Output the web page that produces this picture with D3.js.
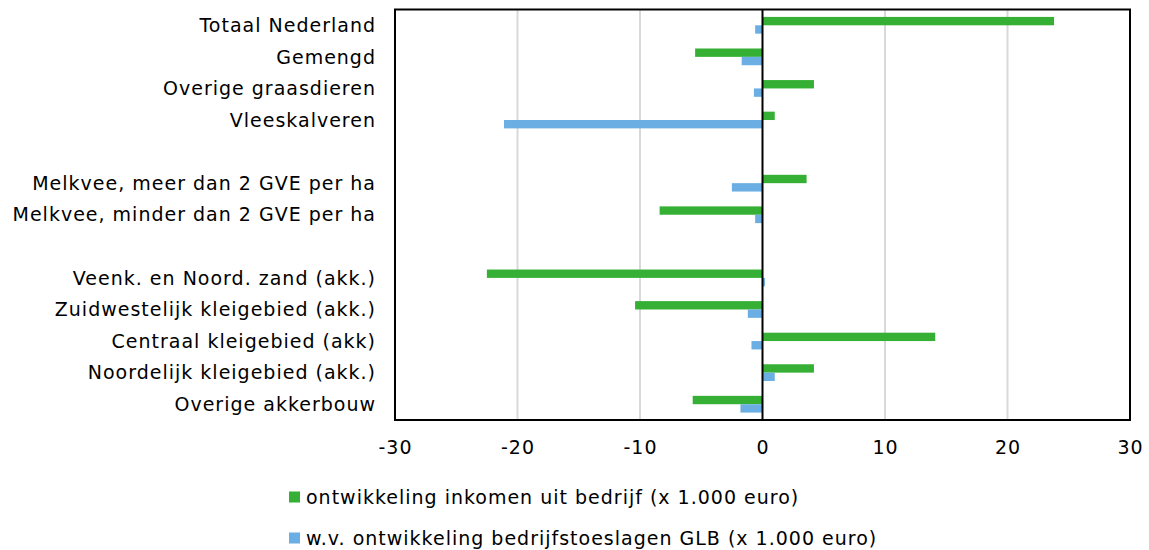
<!DOCTYPE html>
<html>
<head>
<meta charset="utf-8">
<script src="https://cdn.jsdelivr.net/npm/d3@7"></script>
<style>
  html, body { margin: 0; padding: 0; background: #fff; }
  svg { display: block; font-family: "DejaVu Sans", Verdana, sans-serif; }
</style>
</head>
<body>
<svg id="chart" width="1149" height="550"></svg>
<script>
// Categories top to bottom; null marks an empty spacer row between groups
const categories = [
  "Totaal Nederland",
  "Gemengd",
  "Overige graasdieren",
  "Vleeskalveren",
  null,
  "Melkvee, meer dan 2 GVE per ha",
  "Melkvee, minder dan 2 GVE per ha",
  null,
  "Veenk. en Noord. zand (akk.)",
  "Zuidwestelijk kleigebied (akk.)",
  "Centraal kleigebied (akk)",
  "Noordelijk kleigebied (akk.)",
  "Overige akkerbouw"
];

// ontwikkeling inkomen uit bedrijf (x 1.000 euro)
const inkomen = [23.8, -5.5, 4.2, 1.0, null, 3.6, -8.4, null, -22.5, -10.4, 14.1, 4.2, -5.7];
// w.v. ontwikkeling bedrijfstoeslagen GLB (x 1.000 euro)
const toeslagen = [-0.6, -1.7, -0.7, -21.1, null, -2.5, -0.6, null, 0.2, -1.2, -0.9, 1.0, -1.8];

const xTicks = [-30, -20, -10, 0, 10, 20, 30];

const seriesNames = [
  "ontwikkeling inkomen uit bedrijf (x 1.000 euro)",
  "w.v. ontwikkeling bedrijfstoeslagen GLB (x 1.000 euro)"
];
const seriesColors = ["#35b035", "#6aaee3"];
const seriesData = [inkomen, toeslagen];

const FONT_SIZE = 19;
const LETTER_SPACING = 1;

const svg = d3.select("#chart");
const plot = { left: 395, right: 1130, top: 9.5, bottom: 420 };

const x = d3.scaleLinear().domain([-30, 30]).range([plot.left, plot.right]);
const y = d3.scaleBand()
  .domain(d3.range(categories.length))
  .range([plot.top, plot.bottom])
  .paddingInner(0.47)
  .paddingOuter(0.235);
const ySub = d3.scaleBand().domain([0, 1]).range([0, y.bandwidth()]);

// vertical gridlines
svg.append("g")
  .selectAll("line")
  .data(xTicks.filter(t => t !== 0 && Math.abs(t) !== 30))
  .join("line")
  .attr("x1", d => x(d)).attr("x2", d => x(d))
  .attr("y1", plot.top).attr("y2", plot.bottom)
  .attr("stroke", "#d9d9d9")
  .attr("stroke-width", 2);

// bars
seriesData.forEach((vals, si) => {
  svg.append("g")
    .selectAll("rect")
    .data(vals.map((v, i) => ({ v, i })).filter(d => d.v !== null))
    .join("rect")
    .attr("x", d => x(Math.min(0, d.v)))
    .attr("width", d => Math.abs(x(d.v) - x(0)))
    .attr("y", d => y(d.i) + ySub(si))
    .attr("height", ySub.bandwidth())
    .attr("fill", seriesColors[si]);
});

// zero line
svg.append("line")
  .attr("x1", x(0)).attr("x2", x(0))
  .attr("y1", plot.top).attr("y2", plot.bottom)
  .attr("stroke", "#000").attr("stroke-width", 2);

// plot frame
svg.append("rect")
  .attr("x", plot.left).attr("y", plot.top)
  .attr("width", plot.right - plot.left)
  .attr("height", plot.bottom - plot.top)
  .attr("fill", "none").attr("stroke", "#000").attr("stroke-width", 2);

// x axis labels (plain hyphen for negatives)
const xAxis = d3.axisBottom(x).tickValues(xTicks).tickSize(0).tickPadding(21)
  .tickFormat(d => String(d));
const gx = svg.append("g").attr("transform", `translate(0,${plot.bottom})`).call(xAxis);
gx.select(".domain").remove();
gx.selectAll("text")
  .attr("font-family", "DejaVu Sans, Verdana, sans-serif")
  .attr("font-size", FONT_SIZE)
  .attr("letter-spacing", LETTER_SPACING)
  .attr("fill", "#000");

// category labels
svg.append("g")
  .selectAll("text")
  .data(categories.map((c, i) => ({ c, i })).filter(d => d.c !== null))
  .join("text")
  .attr("x", 376)
  .attr("y", d => y(d.i) + y.bandwidth() / 2)
  .attr("dy", "0.35em")
  .attr("text-anchor", "end")
  .attr("font-size", FONT_SIZE)
  .attr("letter-spacing", LETTER_SPACING)
  .attr("fill", "#000")
  .text(d => d.c);

// legend
const legendY = [497, 538];
const legend = svg.append("g");
seriesNames.forEach((name, i) => {
  legend.append("rect")
    .attr("x", 289).attr("y", legendY[i] - 5.5)
    .attr("width", 11).attr("height", 11)
    .attr("fill", seriesColors[i]);
  legend.append("text")
    .attr("x", 306).attr("y", legendY[i])
    .attr("dy", "0.35em")
    .attr("font-size", FONT_SIZE)
    .attr("letter-spacing", LETTER_SPACING)
    .attr("fill", "#000")
    .text(name);
});
</script>
</body>
</html>
